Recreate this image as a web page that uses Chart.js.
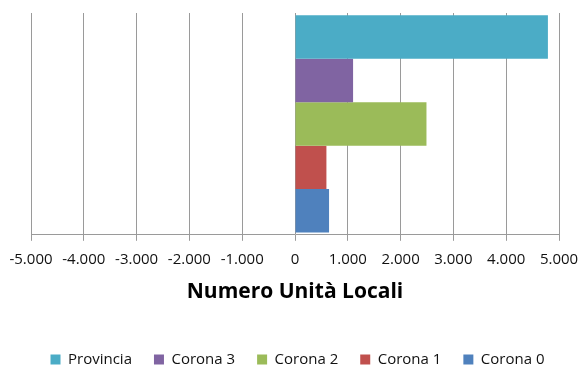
<!DOCTYPE html>
<html>
<head>
<meta charset="utf-8">
<script src="https://cdn.jsdelivr.net/npm/chart.js@4/dist/chart.umd.min.js"></script>
<style>
  html, body { margin: 0; padding: 0; background: #fff; }
  #wrap { width: 581px; height: 365px; }
</style>
</head>
<body>
<div id="wrap"><canvas id="chart"></canvas></div>
<script>
// series, top to bottom
const seriesNames = ['Provincia', 'Corona 3', 'Corona 2', 'Corona 1', 'Corona 0'];
const seriesValues = [4790, 1100, 2490, 595, 645];
const seriesColors = ['#4BACC6', '#8064A2', '#9BBB59', '#C0504D', '#4F81BD'];
const categories = [''];
const axisMin = -5000;
const axisMax = 5000;
const axisStep = 1000;

// 1000 -> "1.000"
const fmt = (v) => {
    const s = String(Math.abs(v)).replace(/\B(?=(\d{3})+(?!\d))/g, '.');
    return v < 0 ? '-' + s : s;
};

const datasets = seriesNames.map((name, i) => ({
    label: name,
    data: [seriesValues[i]],
    backgroundColor: seriesColors[i],
    borderWidth: 0,
    categoryPercentage: 0.98,
    barPercentage: 1.0
}));

new Chart(document.getElementById('chart'), {
    type: 'bar',
    data: { labels: categories, datasets },
    options: {
        indexAxis: 'y',
        responsive: true,
        maintainAspectRatio: false,
        animation: false,
        layout: { padding: { top: 13, left: 9, right: -5, bottom: -12 } },
        scales: {
            x: {
                min: axisMin,
                max: axisMax,
                // room left and right of the plot for the end labels
                afterFit: (scale) => {
                    scale.paddingLeft = 31;
                    scale.paddingRight = 22;
                },
                ticks: {
                    stepSize: axisStep,
                    color: '#111',
                    font: { family: 'Open Sans', size: 15 },
                    padding: 10,
                    maxRotation: 0,
                    callback: (v) => fmt(v)
                },
                grid: {
                    color: '#9a9a9a',
                    lineWidth: 1,
                    tickLength: 6
                },
                border: { color: '#9a9a9a' },
                title: {
                    display: true,
                    text: 'Numero Unità Locali',
                    color: '#000',
                    font: { family: 'Open Sans', size: 21, weight: 'bold' },
                    padding: { top: 1, bottom: 25 }
                }
            },
            y: { display: false }
        },
        plugins: {
            legend: {
                position: 'bottom',
                labels: {
                    boxWidth: 10,
                    boxHeight: 10,
                    padding: 22,
                    color: '#111',
                    font: { family: 'Open Sans', size: 15 }
                }
            },
            tooltip: { enabled: false }
        }
    }
});
</script>
</body>
</html>
